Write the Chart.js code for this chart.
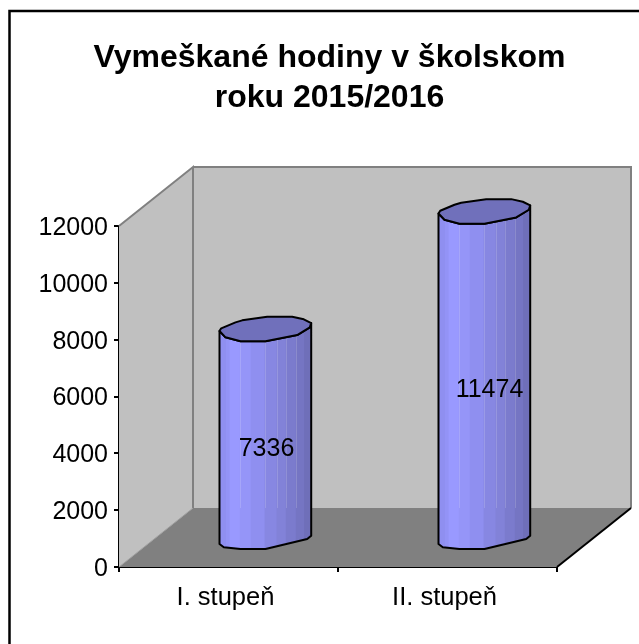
<!DOCTYPE html>
<html><head><meta charset="utf-8">
<script src="https://cdn.jsdelivr.net/npm/chart.js@4"></script>
<style>html,body{margin:0;padding:0;background:#fff}canvas{display:block}</style>
</head><body><canvas id="c" width="639" height="644" style="width:639px;height:644px"></canvas>
<script>
const categories = ['I. stupeň', 'II. stupeň'];
const hours = [7336, 11474];
const yTicks = [0, 2000, 4000, 6000, 8000, 10000, 12000];
const titleLines = ['Vymeškané hodiny v školskom', 'roku 2015/2016'];
const labelNudge = [1, 5];

const FONT = '"Liberation Sans", Arial, sans-serif';
const DX = 74, DY = 59;
const topShape = [[-46,2],[-44.3,-0.7],[-30,-6.7],[-23.3,-8.7],[1.7,-12.3],[26.7,-12.3],[38.3,-9.7],[45.7,-6],[44.3,-1.7],[31.7,6],[0,12.3],[-25,12.3],[-40,8.3]];
const baseShape = [[-46,7.5],[-41.7,10.8],[-25,12.5],[0,12.5],[41.7,2.5],[45.7,-0.8]];
const frontTop = [[45.7,-6],[44.3,-1.7],[31.7,6],[0,12.3],[-25,12.3],[-40,8.3],[-46,2]];
const strips = [[0,'#8f8ff0'],[.07,'#9393f6'],[.11,'#9999ff'],[.22,'#9595f8'],[.34,'#8f8ff0'],[.49,'#8787e2'],[.62,'#8282d8'],[.72,'#7b7bcd'],[.83,'#7575c3'],[.92,'#6f6fb9']];
const sheen = [.22,.49,.62,.72,.83];

function poly(ctx, pts){ctx.beginPath();pts.forEach((p,i)=>i?ctx.lineTo(p[0],p[1]):ctx.moveTo(p[0],p[1]));ctx.closePath();}

const scene = {
  id:'scene',
  beforeDraw(chart){
    const ctx=chart.ctx;
    ctx.save();
    ctx.fillStyle='#fff';ctx.fillRect(0,0,639,644);
    ctx.strokeStyle='#000';ctx.lineWidth=2.5;
    ctx.beginPath();ctx.moveTo(639,11);ctx.lineTo(9.5,11);ctx.lineTo(9.5,644);ctx.stroke();
    ctx.restore();
  },
  beforeDatasetsDraw(chart){
    const ctx=chart.ctx, a=chart.chartArea;
    const L=a.left,R=a.right,T=a.top,B=a.bottom;
    ctx.save();
    ctx.fillStyle='#c0c0c0';
    poly(ctx,[[L,T],[L+DX,T-DY],[L+DX,B-DY],[L,B]]);ctx.fill();
    poly(ctx,[[L+DX,T-DY],[R+DX,T-DY],[R+DX,B-DY],[L+DX,B-DY]]);ctx.fill();
    ctx.fillStyle='#808080';
    poly(ctx,[[L,B],[R,B],[R+DX,B-DY],[L+DX,B-DY]]);ctx.fill();
    ctx.lineWidth=2;ctx.strokeStyle='#808080';
    ctx.beginPath();ctx.moveTo(L,T);ctx.lineTo(L+DX,T-DY);ctx.lineTo(L+DX,B-DY);ctx.stroke();
    ctx.beginPath();ctx.moveTo(L+DX,T-DY);ctx.lineTo(R+DX,T-DY);ctx.lineTo(R+DX,B-DY);ctx.stroke();
    ctx.lineWidth=1;ctx.beginPath();ctx.moveTo(L,B);ctx.lineTo(L+DX,B-DY);ctx.strokeStyle='#a0a0a0';ctx.stroke();
    ctx.lineWidth=2;ctx.strokeStyle='#000';
    ctx.beginPath();ctx.moveTo(R,B);ctx.lineTo(R+DX,B-DY);ctx.stroke();
    ctx.restore();
  },
  afterDatasetsDraw(chart){
    const ctx=chart.ctx, meta=chart.getDatasetMeta(0), floorBack=chart.chartArea.bottom-DY;
    meta.data.forEach((el,i)=>{
      const cx=el.x+DX/2, topY=el.y-DY/2, botY=el.base-DY/2, w=el.width;
      const left=cx-w/2;
      const top=topShape.map(p=>[cx+p[0],topY+p[1]]);
      const body=baseShape.map(p=>[cx+p[0],botY+p[1]]).concat(frontTop.map(p=>[cx+p[0],topY+p[1]]));
      ctx.save();
      poly(ctx,body);ctx.save();ctx.clip();
      strips.forEach((s,k)=>{
        const x0=left+s[0]*w,x1=left+(k+1<strips.length?strips[k+1][0]:1)*w;
        ctx.fillStyle=s[1];ctx.fillRect(x0,topY-20,x1-x0+1,botY-topY+50);
      });
      ctx.fillStyle='rgba(255,255,255,0.16)';
      sheen.forEach(f=>ctx.fillRect(Math.round(left+f*w),topY-20,1,floorBack-topY+20));
      ctx.restore();
      ctx.strokeStyle='#000';ctx.lineWidth=2;ctx.lineJoin='round';
      poly(ctx,body);ctx.stroke();
      ctx.fillStyle='#7070bb';
      poly(ctx,top);ctx.fill();ctx.stroke();
      ctx.fillStyle='#000';ctx.font='25px '+FONT;ctx.textAlign='center';ctx.textBaseline='middle';
      ctx.fillText(String(hours[i]),cx+labelNudge[i],(topY+botY)/2+16);
      ctx.restore();
    });
  }
};

new Chart(document.getElementById('c'),{
  type:'bar',
  data:{labels:categories,datasets:[{data:hours,backgroundColor:'rgba(0,0,0,0)',borderWidth:0,barPercentage:0.42,categoryPercentage:1}]},
  plugins:[scene],
  options:{
    responsive:false,animation:false,
    layout:{padding:{left:20,right:0,top:0,bottom:0}},
    plugins:{
      legend:{display:false},tooltip:{enabled:false},
      title:{display:true,text:titleLines,color:'#000',font:{family:FONT,size:32,weight:'bold',lineHeight:1.25},padding:{top:38,bottom:108}}
    },
    scales:{
      x:{offset:true,grid:{offset:true,drawOnChartArea:false,tickLength:5,tickColor:'#000',lineWidth:2},border:{color:'#000',width:2},
         ticks:{color:'#000',font:{family:FONT,size:25.5},padding:11,maxRotation:0,labelOffset:-3},afterFit(s){s.height=77;}},
      y:{min:0,max:12000,afterBuildTicks(s){s.ticks=yTicks.map(v=>({value:v}));},grid:{drawOnChartArea:false,tickLength:5,tickColor:'#000',lineWidth:2},border:{color:'#000',width:2},
         ticks:{color:'#000',font:{family:FONT,size:25},padding:6,labelOffset:2,callback:v=>String(v)},afterFit(s){s.width=99;}},
      yRight:{type:'linear',position:'right',grid:{display:false},border:{display:false},ticks:{display:false},afterFit(s){s.width=82;}}
    }
  }
});
</script></body></html>
